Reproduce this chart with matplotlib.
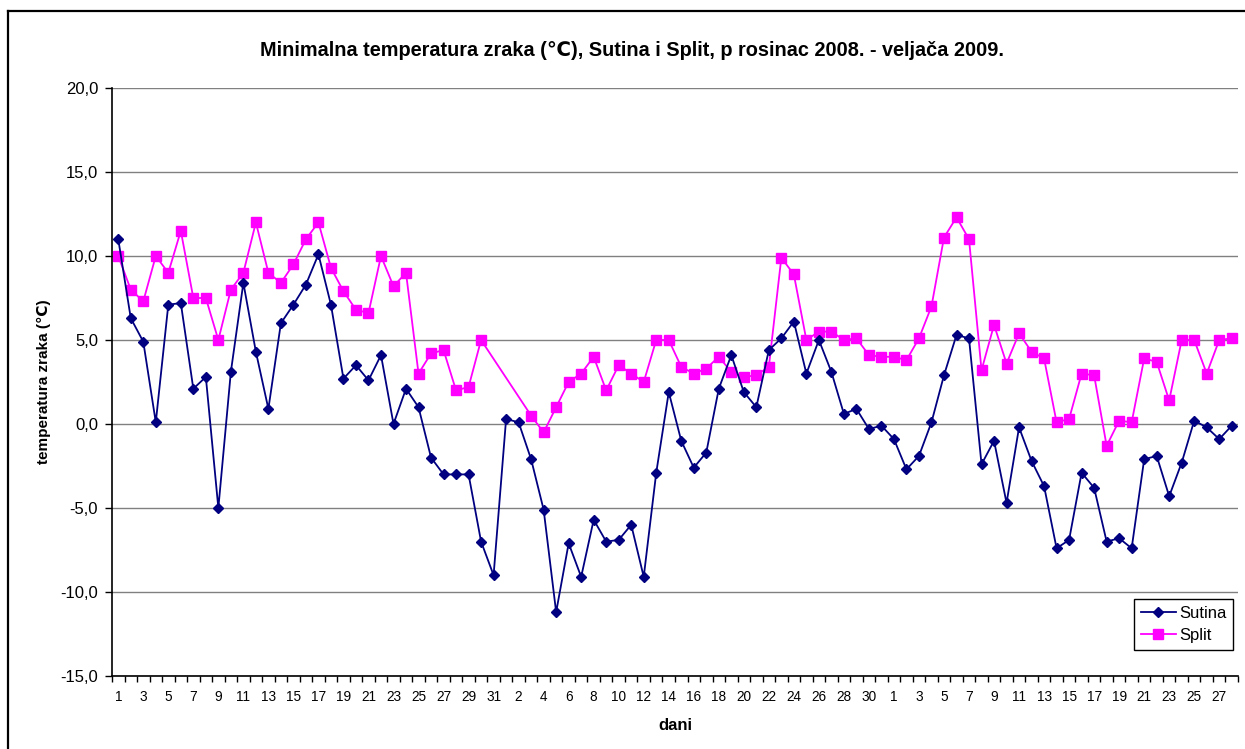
import numpy as np
import matplotlib
matplotlib.use('Agg')
import matplotlib.pyplot as plt
from matplotlib.lines import Line2D

plt.rcParams['font.family'] = ['Liberation Sans', 'DejaVu Sans']

# dani: prosinac 2008 (31), sijecanj 2009 (31), veljaca 2009 (28)
dec_days = list(range(1, 32))
jan_days = list(range(1, 32))
feb_days = list(range(1, 29))
day_labels = dec_days + jan_days + feb_days

sutina = [11.0, 6.3, 4.9, 0.1, 7.1, 7.2, 2.1, 2.8, -5.0, 3.1,
          8.4, 4.3, 0.9, 6.0, 7.1, 8.3, 10.1, 7.1, 2.7, 3.5,
          2.6, 4.1, 0.0, 2.1, 1.0, -2.0, -3.0, -3.0, -3.0, -7.0,
          -9.0,
          0.3, 0.1, -2.1, -5.1, -11.2, -7.1, -9.1, -5.7, -7.0, -6.9,
          -6.0, -9.1, -2.9, 1.9, -1.0, -2.6, -1.7, 2.1, 4.1, 1.9,
          1.0, 4.4, 5.1, 6.1, 3.0, 5.0, 3.1, 0.6, 0.9, -0.3,
          -0.1,
          -0.9, -2.7, -1.9, 0.1, 2.9, 5.3, 5.1, -2.4, -1.0, -4.7,
          -0.2, -2.2, -3.7, -7.4, -6.9, -2.9, -3.8, -7.0, -6.8, -7.4,
          -2.1, -1.9, -4.3, -2.3, 0.2, -0.2, -0.9, -0.1]

nan = np.nan
split = [10.0, 8.0, 7.3, 10.0, 9.0, 11.5, 7.5, 7.5, 5.0, 8.0,
         9.0, 12.0, 9.0, 8.4, 9.5, 11.0, 12.0, 9.3, 7.9, 6.8,
         6.6, 10.0, 8.2, 9.0, 3.0, 4.2, 4.4, 2.0, 2.2, 5.0,
         nan,
         nan, nan, 0.5, -0.5, 1.0, 2.5, 3.0, 4.0, 2.0, 3.5,
         3.0, 2.5, 5.0, 5.0, 3.4, 3.0, 3.3, 4.0, 3.1, 2.8,
         2.9, 3.4, 9.9, 8.9, 5.0, 5.5, 5.5, 5.0, 5.1, 4.1,
         4.0,
         4.0, 3.8, 5.1, 7.0, 11.1, 12.3, 11.0, 3.2, 5.9, 3.6,
         5.4, 4.3, 3.9, 0.1, 0.3, 3.0, 2.9, -1.3, 0.2, 0.1,
         3.9, 3.7, 1.4, 5.0, 5.0, 3.0, 5.0, 5.1]

yticks = [-15, -10, -5, 0, 5, 10, 15, 20]

x = np.arange(len(day_labels))
sutina = np.array(sutina)
split = np.array(split)

fig = plt.figure(figsize=(12.45, 7.49), dpi=100)
ax = fig.add_axes([112 / 1245, 73 / 749, 1126 / 1245, 588 / 749])

# vanjski okvir grafikona
fig.add_artist(Line2D([7.5 / 1245, 7.5 / 1245], [0, 1 - 11 / 749], color='black', lw=1.6,
                      transform=fig.transFigure))
fig.add_artist(Line2D([7.5 / 1245, 1.0], [1 - 11 / 749, 1 - 11 / 749], color='black', lw=1.6,
                      transform=fig.transFigure))

navy = '#000080'
magenta = '#FF00FF'

# Excel spaja tocke preko praznina, pa crtamo samo postojece vrijednosti
ok_s = ~np.isnan(sutina)
ok_p = ~np.isnan(split)
ax.plot(x[ok_s], sutina[ok_s], color=navy, lw=1.3, marker='D', ms=5.4,
        mfc=navy, mec=navy, label='Sutina', zorder=3)
ax.plot(x[ok_p], split[ok_p], color=magenta, lw=1.3, marker='s', ms=6.7,
        mfc=magenta, mec=magenta, label='Split', zorder=2)

ax.set_xlim(-0.5, len(day_labels) - 0.5)
ax.set_ylim(-15, 20)
ax.set_yticks(yticks)
ax.set_yticklabels([('%.1f' % v).replace('.', ',') for v in yticks], fontsize=12)
ax.yaxis.grid(True, color='#808080', lw=1)
ax.set_axisbelow(True)

# crtice na granicama kategorija, oznake svaki drugi dan
ax.set_xticks(np.arange(-0.5, len(day_labels), 1))
ax.set_xticklabels([])
ax.set_xticks(x[::2], minor=True)
ax.set_xticklabels([str(d) for d in day_labels[::2]], minor=True, fontsize=9.8)
ax.tick_params(axis='x', which='major', length=4, width=1, direction='out')
ax.tick_params(axis='x', which='minor', length=0, pad=10)
ax.tick_params(axis='y', length=5, width=1, direction='out', pad=5)

for s in ['top', 'right']:
    ax.spines[s].set_visible(False)
ax.spines['left'].set_linewidth(1.2)
ax.spines['bottom'].set_linewidth(1.2)

ax.set_xlabel('dani', fontsize=12, fontweight='bold', labelpad=10)
ax.set_ylabel('temperatura zraka (\u2103)', fontsize=11, fontweight='bold', labelpad=7)

fig.text(0.508, 1 - 50 / 749,
         'Minimalna temperatura zraka (\u2103), Sutina i Split, p rosinac 2008. - veljača 2009.',
         ha='center', va='center', fontsize=14.3, fontweight='bold')

leg = ax.legend(loc='lower right', bbox_to_anchor=(1121 / 1126, 26 / 588), fontsize=12,
                frameon=True, fancybox=False, framealpha=1, edgecolor='black',
                borderpad=0.4, handlelength=2.1, handletextpad=0.2, labelspacing=0.45,
                borderaxespad=0)
leg.get_frame().set_linewidth(1)

fig.savefig('out.png', dpi=100)
